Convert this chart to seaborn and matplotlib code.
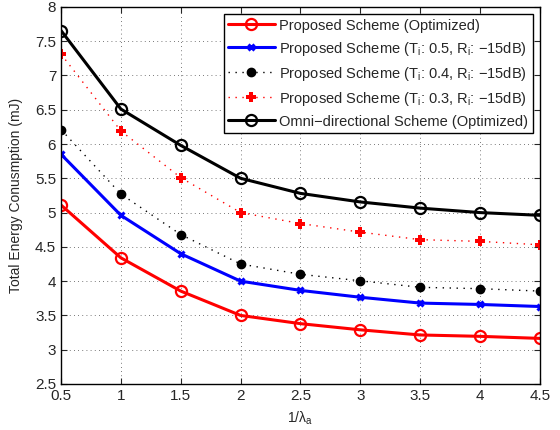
import matplotlib
matplotlib.use("Agg")
import matplotlib.pyplot as plt
import seaborn as sns
import pandas as pd

sns.set_style("ticks")
plt.rcParams["font.family"] = ["Liberation Sans", "DejaVu Sans"]
plt.rcParams["mathtext.fontset"] = "custom"
plt.rcParams["mathtext.rm"] = "Liberation Sans"
plt.rcParams["mathtext.it"] = "Liberation Sans"

inv_lambda = [0.5, 1, 1.5, 2, 2.5, 3, 3.5, 4, 4.5]
proposed_opt = [5.11, 4.34, 3.855, 3.50, 3.38, 3.29, 3.215, 3.195, 3.165]
proposed_t05 = [5.85, 4.96, 4.40, 4.00, 3.865, 3.765, 3.68, 3.66, 3.63]
proposed_t04 = [6.21, 5.27, 4.68, 4.25, 4.10, 4.005, 3.91, 3.89, 3.855]
proposed_t03 = [7.31, 6.19, 5.51, 5.00, 4.84, 4.715, 4.605, 4.58, 4.53]
omni_opt = [7.655, 6.51, 5.98, 5.50, 5.28, 5.155, 5.065, 5.00, 4.96]

labels = [
    "Proposed Scheme (Optimized)",
    "Proposed Scheme (T$_i$: 0.5, R$_i$: \u221215dB)",
    "Proposed Scheme (T$_i$: 0.4, R$_i$: \u221215dB)",
    "Proposed Scheme (T$_i$: 0.3, R$_i$: \u221215dB)",
    "Omni\u2212directional Scheme (Optimized)",
]

fig = plt.figure(figsize=(5.6, 4.3), dpi=100)
ax = fig.add_axes([0.109, 0.107, 0.855, 0.877])

styles = [
    dict(color="red", linestyle="-", linewidth=2.2, marker="o", markersize=8,
         markerfacecolor="none", markeredgecolor="red", markeredgewidth=1.6),
    dict(color="blue", linestyle="-", linewidth=2.2, marker="x", markersize=5,
         markeredgecolor="blue", markeredgewidth=2.2),
    dict(color="black", linestyle=(0, (1, 4)), linewidth=1.0, marker="o", markersize=6,
         markerfacecolor="black", markeredgecolor="black", markeredgewidth=1),
    dict(color="red", linestyle=(0, (1, 4)), linewidth=1.0, marker="P", markersize=7,
         markerfacecolor="red", markeredgecolor="red", markeredgewidth=0),
    dict(color="black", linestyle="-", linewidth=2.2, marker="o", markersize=8,
         markerfacecolor="none", markeredgecolor="black", markeredgewidth=1.6),
]

series = [proposed_opt, proposed_t05, proposed_t04, proposed_t03, omni_opt]
for vals, lab, st in zip(series, labels, styles):
    df = pd.DataFrame({"x": inv_lambda, "y": vals})
    sns.lineplot(data=df, x="x", y="y", ax=ax, label=lab, **st)

ax.set_xlim(0.5, 4.5)
ax.set_ylim(2.5, 8)
ax.set_xticks([0.5, 1, 1.5, 2, 2.5, 3, 3.5, 4, 4.5])
ax.set_xticklabels(["0.5", "1", "1.5", "2", "2.5", "3", "3.5", "4", "4.5"])
ax.set_yticks([2.5, 3, 3.5, 4, 4.5, 5, 5.5, 6, 6.5, 7, 7.5, 8])
ax.set_yticklabels(["2.5", "3", "3.5", "4", "4.5", "5", "5.5", "6", "6.5", "7", "7.5", "8"])
ax.grid(True, linestyle=(0, (1, 4)), color="black", linewidth=0.6, alpha=0.7)
ax.tick_params(direction="in", top=True, right=True, labelsize=11, length=4, width=0.8)
for sp in ax.spines.values():
    sp.set_visible(True)
    sp.set_color("black")
    sp.set_linewidth(1.0)

ax.set_xlabel("1/\u03bb$_a$", fontsize=10, labelpad=5)
ax.set_ylabel("Total Energy Conusmption (mJ)", fontsize=10, labelpad=9)

leg = ax.legend(loc="upper right", fontsize=10.5, frameon=True, fancybox=False,
                borderaxespad=0.5, handlelength=3.2, labelspacing=0.48,
                borderpad=0.3, handletextpad=0.3)
leg.get_frame().set_edgecolor("black")
leg.get_frame().set_linewidth(1.0)
leg.get_frame().set_alpha(1)

fig.savefig("out.png", dpi=100)
